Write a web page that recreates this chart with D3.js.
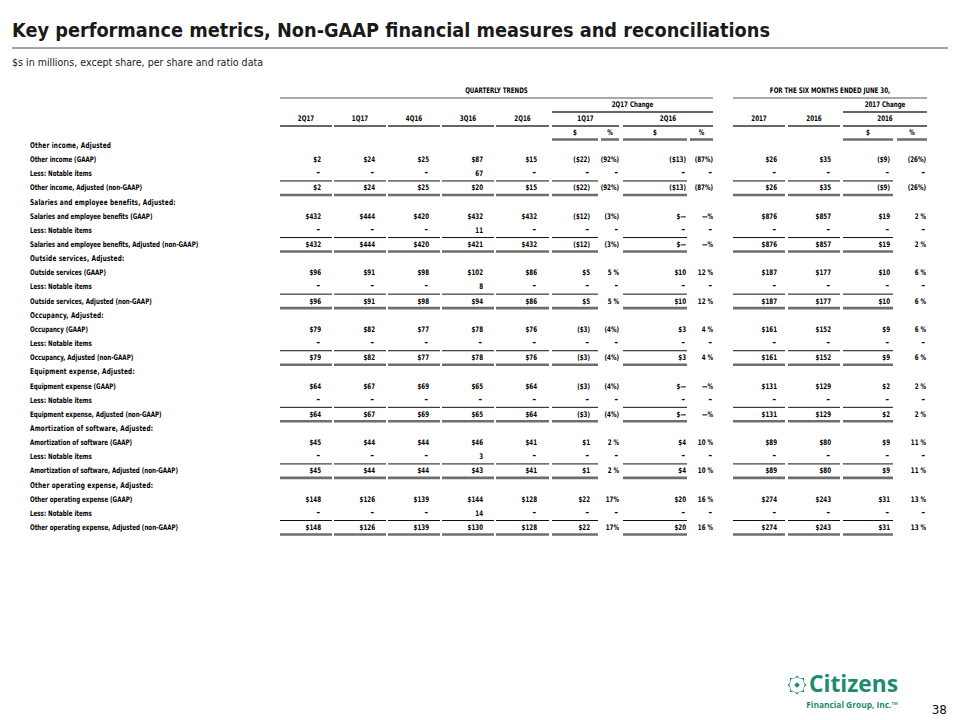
<!DOCTYPE html>
<html>
<head>
<meta charset="utf-8">
<script src="https://cdn.jsdelivr.net/npm/d3@7/dist/d3.min.js"></script>
<style>
  html, body { margin: 0; padding: 0; background: #fff; }
  svg { display: block; }
</style>
</head>
<body>
<svg id="chart" width="960" height="720"></svg>
<script>
// ---------- DATA ----------
const columnKeys = ["2Q17","1Q17","4Q16","3Q16","2Q16","c1$","c1%","c2$","c2%","y2017","y2016","yc$","yc%"];
const quarterLabels = ["2Q17","1Q17","4Q16","3Q16","2Q16"];
const changeGroupLabels = ["1Q17","2Q16"];
const ytdLabels = ["2017","2016"];
const ytdChangeLabel = "2016";
const unitLabels = ["$","%"];

const sectionTitles = [
  "Other income, Adjusted",
  "Salaries and employee benefits, Adjusted:",
  "Outside services, Adjusted:",
  "Occupancy, Adjusted:",
  "Equipment expense, Adjusted:",
  "Amortization of software, Adjusted:",
  "Other operating expense, Adjusted:"
];
const gaapLabels = [
  "Other income (GAAP)",
  "Salaries and employee benefits (GAAP)",
  "Outside services (GAAP)",
  "Occupancy (GAAP)",
  "Equipment expense (GAAP)",
  "Amortization of software (GAAP)",
  "Other operating expense (GAAP)"
];
const adjustedLabels = [
  "Other income, Adjusted (non-GAAP)",
  "Salaries and employee benefits, Adjusted (non-GAAP)",
  "Outside services, Adjusted (non-GAAP)",
  "Occupancy, Adjusted (non-GAAP)",
  "Equipment expense, Adjusted (non-GAAP)",
  "Amortization of software, Adjusted (non-GAAP)",
  "Other operating expense, Adjusted (non-GAAP)"
];
const notableLabel = "Less: Notable items";

const gaapValues = [
  ["$2","$24","$25","$87","$15","($22)","(92%)","($13)","(87%)","$26","$35","($9)","(26%)"],
  ["$432","$444","$420","$432","$432","($12)","(3%)","$—","—%","$876","$857","$19","2 %"],
  ["$96","$91","$98","$102","$86","$5","5 %","$10","12 %","$187","$177","$10","6 %"],
  ["$79","$82","$77","$78","$76","($3)","(4%)","$3","4 %","$161","$152","$9","6 %"],
  ["$64","$67","$69","$65","$64","($3)","(4%)","$—","—%","$131","$129","$2","2 %"],
  ["$45","$44","$44","$46","$41","$1","2 %","$4","10 %","$89","$80","$9","11 %"],
  ["$148","$126","$139","$144","$128","$22","17%","$20","16 %","$274","$243","$31","13 %"]
];
const notableValues = [
  ["—","—","—","67","—","—","—","—","—","—","—","—","—"],
  ["—","—","—","11","—","—","—","—","—","—","—","—","—"],
  ["—","—","—","8","—","—","—","—","—","—","—","—","—"],
  ["—","—","—","—","—","—","—","—","—","—","—","—","—"],
  ["—","—","—","—","—","—","—","—","—","—","—","—","—"],
  ["—","—","—","3","—","—","—","—","—","—","—","—","—"],
  ["—","—","—","14","—","—","—","—","—","—","—","—","—"]
];
const adjustedValues = [
  ["$2","$24","$25","$20","$15","($22)","(92%)","($13)","(87%)","$26","$35","($9)","(26%)"],
  ["$432","$444","$420","$421","$432","($12)","(3%)","$—","—%","$876","$857","$19","2 %"],
  ["$96","$91","$98","$94","$86","$5","5 %","$10","12 %","$187","$177","$10","6 %"],
  ["$79","$82","$77","$78","$76","($3)","(4%)","$3","4 %","$161","$152","$9","6 %"],
  ["$64","$67","$69","$65","$64","($3)","(4%)","$—","—%","$131","$129","$2","2 %"],
  ["$45","$44","$44","$43","$41","$1","2 %","$4","10 %","$89","$80","$9","11 %"],
  ["$148","$126","$139","$130","$128","$22","17%","$20","16 %","$274","$243","$31","13 %"]
];

// ---------- LAYOUT ----------
const svg = d3.select("#chart");
const FONT = "'Liberation Sans Narrow','DejaVu Sans Condensed','Arial Narrow',sans-serif";
const FS = 7.7;
const SX = 0.8; // horizontal condensing to mimic the narrow table face

const colStart = d3.scaleOrdinal().domain(columnKeys)
  .range([280,334,388,442,496,552,601,623,690,733,788,843,897]);
const colEnd = d3.scaleOrdinal().domain(columnKeys)
  .range([332,386,440,494,549,598,619,687,713,785,840,893,927]);
const colRight = d3.scaleOrdinal().domain(columnKeys)
  .range([321,375,429,483,537,590,619,686,713,777,831,890,926]);
const pctCols = new Set(["c1%","c2%","yc%"]);

const rows = [];
sectionTitles.forEach((t, i) => {
  rows.push({type: "section", label: t});
  rows.push({type: "gaap", label: gaapLabels[i], values: gaapValues[i]});
  rows.push({type: "notable", label: notableLabel, values: notableValues[i]});
  rows.push({type: "total", label: adjustedLabels[i], values: adjustedValues[i]});
});
const y = d3.scaleLinear().domain([0, rows.length - 1]).range([145, 527]);

function ctext(g, x, yy, str, anchor, size, ls) {
  const t = g.append("text")
    .attr("transform", `translate(${x},${yy}) scale(${SX},1)`)
    .attr("text-anchor", anchor || "start")
    .text(str);
  if (size) t.attr("font-size", size);
  if (ls) t.attr("letter-spacing", ls);
  return t;
}
function hline(x1, x2, yy, color, w) {
  svg.append("line").attr("x1", x1).attr("x2", x2).attr("y1", yy).attr("y2", yy)
    .attr("stroke", color).attr("stroke-width", w);
}

// ---------- TITLE ----------
svg.append("text")
  .attr("x", 12).attr("y", 37)
  .attr("font-family", "'DejaVu Sans',Verdana,sans-serif")
  .attr("font-weight", "bold").attr("font-size", 19.5)
  .attr("fill", "#1a1a1a")
  .attr("textLength", 758).attr("lengthAdjust", "spacingAndGlyphs")
  .text("Key performance metrics, Non-GAAP financial measures and reconciliations");
hline(12, 948, 48, "#a6a6a6", 2);
svg.append("text")
  .attr("x", 12).attr("y", 66)
  .attr("font-family", "'DejaVu Sans',Verdana,sans-serif")
  .attr("font-size", 11).attr("fill", "#1a1a1a")
  .attr("textLength", 251).attr("lengthAdjust", "spacingAndGlyphs")
  .text("$s in millions, except share, per share and ratio data");

// ---------- HEADERS ----------
const hdr = svg.append("g").attr("font-family", FONT).attr("font-weight", "bold")
  .attr("font-size", FS).attr("fill", "#000");

ctext(hdr, (280 + 713) / 2, 93, "QUARTERLY TRENDS", "middle");
ctext(hdr, (733 + 927) / 2, 93, "FOR THE SIX MONTHS ENDED JUNE 30,", "middle");
hline(280, 713, 98, "#555", 1.2);
hline(733, 927, 98, "#555", 1.2);

ctext(hdr, (colStart("c1$") + colEnd("c2%")) / 2, 107, "2Q17 Change", "middle");
ctext(hdr, (colStart("yc$") + colEnd("yc%")) / 2, 107, "2017 Change", "middle");
hline(colStart("c1$"), colEnd("c2%"), 112, "#333", 1.4);
hline(colStart("yc$"), colEnd("yc%"), 112, "#333", 1.4);

quarterLabels.forEach((q, i) => {
  const k = columnKeys[i];
  ctext(hdr, (colStart(k) + colEnd(k)) / 2, 121, q, "middle");
  hline(colStart(k), colEnd(k), 126, "#333", 1.4);
});
[["c1$","c1%"],["c2$","c2%"]].forEach((pair, i) => {
  ctext(hdr, (colStart(pair[0]) + colEnd(pair[1])) / 2, 121, changeGroupLabels[i], "middle");
  hline(colStart(pair[0]), colEnd(pair[1]), 126, "#333", 1.4);
});
["y2017","y2016"].forEach((k, i) => {
  ctext(hdr, (colStart(k) + colEnd(k)) / 2, 121, ytdLabels[i], "middle");
  hline(colStart(k), colEnd(k), 126, "#333", 1.4);
});
ctext(hdr, (colStart("yc$") + colEnd("yc%")) / 2, 121, ytdChangeLabel, "middle");
hline(colStart("yc$"), colEnd("yc%"), 126, "#333", 1.4);

["c1$","c1%","c2$","c2%","yc$","yc%"].forEach((k, i) => {
  ctext(hdr, (colStart(k) + colEnd(k)) / 2, 135, unitLabels[i % 2], "middle");
  hline(colStart(k), colEnd(k), 139.5, "#6e6e6e", 2.6);
});

// ---------- BODY ----------
const body = svg.append("g").attr("font-family", FONT).attr("font-weight", "bold")
  .attr("font-size", FS).attr("fill", "#000");

rows.forEach((r, i) => {
  const yy = y(i);
  if (r.type === "section") {
    ctext(body, 30, yy + 3, r.label, "start", FS + 0.3, 0.25);
    return;
  }
  ctext(body, 30, yy + 3, r.label, "start");
  r.values.forEach((v, j) => {
    const k = columnKeys[j];
    const isDash = v === "—";
    if (isDash) {
      ctext(body, colRight(k) - 1, yy + 3, "–", "end", FS + 2);
    } else {
      ctext(body, colRight(k), yy + 3, v, "end");
    }
  });
  if (r.type === "total") {
    columnKeys.filter(k => !pctCols.has(k)).forEach(k => {
      hline(colStart(k), colEnd(k), yy - 6.5, "#111", 1);
      hline(colStart(k), colEnd(k), yy + 7.5, "#6e6e6e", 2.6);
    });
  }
});

// ---------- LOGO & PAGE NUMBER ----------
const logo = svg.append("g").attr("fill", "#1f8a70");
const cx = 797, cy = 685, s = 3.2;
const chev = "M0,-1 L1,0 L0,1 L0.45,0 Z";
[0,45,90,135,180,225,270,315].forEach(a => {
  const rad = a * Math.PI / 180;
  const r0 = a % 90 === 0 ? 6.2 : 6.8;
  logo.append("path")
    .attr("d", chev)
    .attr("transform", `translate(${cx + r0 * Math.cos(rad)},${cy + r0 * Math.sin(rad)}) rotate(${a}) scale(${s})`);
});
logo.append("rect").attr("x", cx - 2).attr("y", cy - 2).attr("width", 4).attr("height", 4)
  .attr("transform", `rotate(45,${cx},${cy})`);
logo.append("text").attr("x", 809).attr("y", 692)
  .attr("font-family", "'Open Sans','Noto Sans',sans-serif").attr("font-weight", "bold")
  .attr("font-size", 23).attr("textLength", 89).attr("lengthAdjust", "spacingAndGlyphs")
  .text("Citizens");
logo.append("text").attr("x", 898).attr("y", 708).attr("text-anchor", "end")
  .attr("font-family", "'Open Sans','Noto Sans',sans-serif").attr("font-weight", "bold")
  .attr("font-size", 8.4)
  .text("Financial Group, Inc.™");
svg.append("text").attr("x", 947).attr("y", 714).attr("text-anchor", "end")
  .attr("font-family", "'DejaVu Sans',sans-serif").attr("font-size", 12).attr("fill", "#111")
  .text("38");
</script>
</body>
</html>
